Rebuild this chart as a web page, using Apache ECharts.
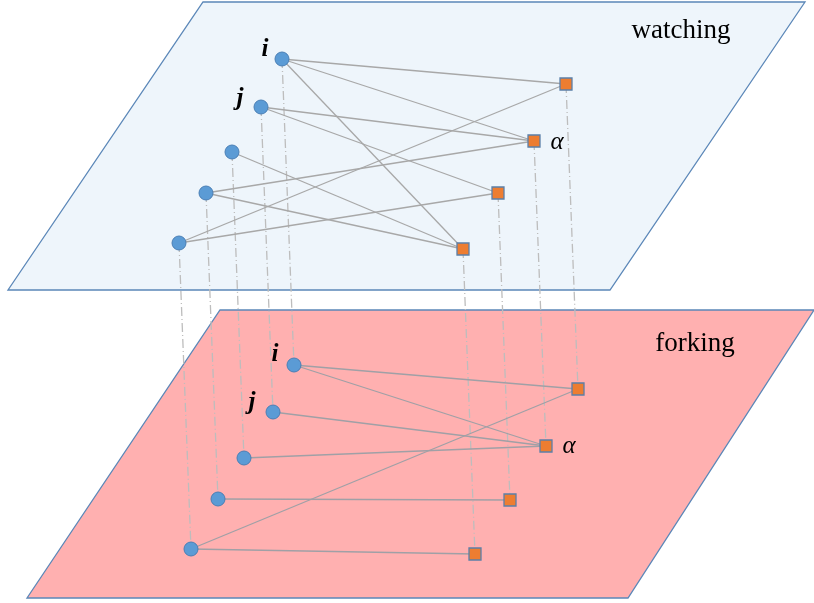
<!DOCTYPE html>
<html>
<head>
<meta charset="utf-8">
<script src="https://cdn.jsdelivr.net/npm/echarts@6/dist/echarts.min.js"></script>
<style>html,body{margin:0;padding:0;background:#fff}#c{width:814px;height:603px}</style>
</head>
<body>
<div id="c"></div>
<script>
// Plane outlines (diagram coordinates, y downward)
var topPlane = [[203, 2], [805, 2], [610, 290], [8, 290]];
var bottomPlane = [[220, 310], [814, 310], [628, 598], [27, 598]];

// Nodes (users = circles, repos = squares)
var topCircles = [[282, 59], [261, 107], [232, 152], [206, 193], [179, 243]];
var topSquares = [[566, 84], [534, 141], [498, 193], [463, 249]];
var bottomCircles = [[294, 365], [273, 412], [244, 458], [218, 499], [191, 549]];
var bottomSquares = [[578, 389], [546, 446], [510, 500], [475, 554]];

// Edges: [circle index, square index]
var topEdges = [[0, 0], [0, 1], [0, 3], [1, 1], [1, 2], [2, 3], [3, 1], [3, 3], [4, 0], [4, 2]];
var bottomEdges = [[0, 0], [0, 1], [1, 1], [2, 1], [3, 2], [4, 0], [4, 3]];

// Labels
var planeNames = ['watching', 'forking'];
var planeLabelPos = [[681, 31], [695, 344]];
var userLabels = ['i', 'j', 'i', 'j'];
var userLabelPos = [[265, 50], [240, 99], [275, 355], [252, 403]];
var repoLabels = ['α', 'α'];
var repoLabelPos = [[557, 142], [569, 446]];

function edgeData(edges, circles, squares) {
  return edges.map(function (e) { return {coords: [circles[e[0]], squares[e[1]]]}; });
}
var verticalLinks = [];
topCircles.forEach(function (p, k) { verticalLinks.push({coords: [p, bottomCircles[k]]}); });
topSquares.forEach(function (p, k) { verticalLinks.push({coords: [p, bottomSquares[k]]}); });

function planeSeries(points, fill, z) {
  return {
    type: 'custom', coordinateSystem: 'cartesian2d', z: z, silent: true,
    data: [0],
    renderItem: function (params, api) {
      return {
        type: 'polygon',
        shape: {points: points.map(function (p) { return api.coord(p); })},
        style: {fill: fill, stroke: '#5B87B8', lineWidth: 1.3}
      };
    }
  };
}
function textSeries(names, positions, font) {
  return {
    type: 'scatter', z: 6, symbolSize: 1, silent: true,
    itemStyle: {opacity: 0},
    label: Object.assign({
      show: true, position: 'inside', formatter: function (p) { return p.data.name; },
      fontFamily: 'Liberation Serif', color: '#000', opacity: 1
    }, font),
    data: names.map(function (n, k) { return {name: n, value: positions[k]}; })
  };
}

var chart = echarts.init(document.getElementById('c'), null, {renderer: 'canvas'});
chart.setOption({
  animation: false,
  grid: {left: 0, right: 0, top: 0, bottom: 0},
  xAxis: {type: 'value', min: 0, max: 814, show: false},
  yAxis: {type: 'value', min: 0, max: 603, inverse: true, show: false},
  series: [
    planeSeries(topPlane, '#EEF5FB', 1),
    planeSeries(bottomPlane, '#FFB0B0', 2),
    {
      type: 'lines', coordinateSystem: 'cartesian2d', z: 3, silent: true,
      lineStyle: {color: '#BDBDBD', width: 1.3, type: [9, 3, 1, 3], opacity: 1},
      data: verticalLinks
    },
    {
      type: 'lines', coordinateSystem: 'cartesian2d', z: 4, silent: true,
      lineStyle: {color: '#A8A8A8', width: 1.3, opacity: 1},
      data: edgeData(topEdges, topCircles, topSquares)
    },
    {
      type: 'lines', coordinateSystem: 'cartesian2d', z: 4, silent: true,
      lineStyle: {color: '#A0A0A6', width: 1.3, opacity: 1},
      data: edgeData(bottomEdges, bottomCircles, bottomSquares)
    },
    {
      type: 'scatter', z: 5, symbol: 'circle', symbolSize: 14, silent: true,
      itemStyle: {color: '#5B9BD5', borderColor: '#4A7FB5', borderWidth: 1, opacity: 1},
      data: topCircles.concat(bottomCircles)
    },
    {
      type: 'scatter', z: 5, symbol: 'rect', symbolSize: 12, silent: true,
      itemStyle: {color: '#ED7D31', borderColor: '#5B7FA8', borderWidth: 1.3, opacity: 1},
      data: topSquares.concat(bottomSquares)
    },
    textSeries(planeNames, planeLabelPos, {fontSize: 27}),
    textSeries(userLabels, userLabelPos, {fontSize: 25, fontStyle: 'italic', fontWeight: 'bold'}),
    textSeries(repoLabels, repoLabelPos, {fontSize: 25, fontStyle: 'italic'})
  ]
});
</script>
</body>
</html>
